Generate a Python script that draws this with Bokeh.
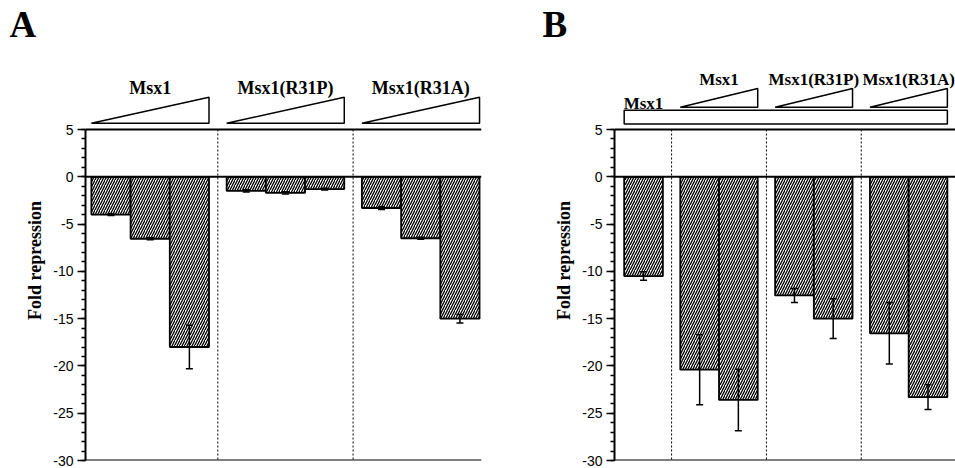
from bokeh.plotting import figure
from bokeh.layouts import row, column
from bokeh.models import (Range1d, ColumnDataSource, Whisker, TeeHead,
                          FixedTicker, Span)
from bokeh.embed import file_html
from bokeh.resources import INLINE
from bokeh.core.properties import value

# ---------------- data ----------------
A_groups = ["Msx1", "Msx1(R31P)", "Msx1(R31A)"]
A_values = [[-4.0, -6.55, -18.0], [-1.5, -1.7, -1.3], [-3.3, -6.5, -15.0]]
A_errors = [[0.1, 0.1, 2.3], [0.12, 0.12, 0.1], [0.15, 0.1, 0.45]]

B_groups = ["Msx1", "Msx1", "Msx1(R31P)", "Msx1(R31A)"]
B_values = [[-10.5], [-20.4, -23.6], [-12.55, -15.0], [-16.55, -23.3]]
B_errors = [[0.45], [3.7, 3.25], [0.75, 2.1], [3.25, 1.3]]

y_ticks = [5, 0, -5, -10, -15, -20, -25, -30]
y_tick_labels = ["5", "0", "-5", "-10", "-15", "-20", "-25", "-30"]
y_minor_ticks = list(range(-30, 6))
y_label = "Fold repression"
panel_letters = ["A", "B"]

# ---------------- style / layout ----------------
SERIF = "Liberation Serif"
SANS = "Liberation Sans"
Y_TOP, Y_BOT = 5, -30
PX_TOP, PX_BOT = 129, 460          # pixel rows of y=5 and y=-30
STRIP_H = 60
SCALE = (PX_BOT - PX_TOP) / (Y_TOP - Y_BOT)
Y_END = Y_TOP + (PX_TOP - STRIP_H) / SCALE
W_A, W_B = 490, 465
H_MAIN = 468 - STRIP_H
BOTTOM_BORDER = 468 - PX_BOT


def layout_bars(values, pad_left, gap, pad_right):
    x = pad_left
    centers, bounds, seps = [], [], []
    for gi, vals in enumerate(values):
        if gi > 0:
            seps.append(x + gap / 2)
            x += gap
        left = x
        cs = []
        for _ in vals:
            cs.append(x + 0.5)
            x += 1
        centers.append(cs)
        bounds.append((left, x))
    return centers, bounds, seps, x + pad_right


def make_panel(values, errors, width, border_left, border_right,
               pad_left, gap, pad_right):
    centers, bounds, seps, x_end = layout_bars(values, pad_left, gap, pad_right)
    p = figure(width=width, height=H_MAIN, x_range=Range1d(0, x_end),
               y_range=Range1d(Y_BOT, Y_END), output_backend="svg",
               toolbar_location=None, x_axis_location=None,
               min_border_left=border_left, min_border_right=border_right,
               min_border_top=0, min_border_bottom=BOTTOM_BORDER,
               outline_line_color=None, background_fill_color="white",
               border_fill_color="white")
    p.xgrid.visible = False
    p.ygrid.visible = False

    ax = p.yaxis[0]
    ax.ticker = FixedTicker(ticks=y_ticks, minor_ticks=y_minor_ticks)
    ax.major_label_overrides = {t: l for t, l in zip(y_ticks, y_tick_labels)}
    ax.bounds = (Y_BOT, Y_TOP)
    ax.axis_line_width = 2
    ax.axis_line_color = "black"
    ax.major_tick_out = 8
    ax.major_tick_in = 0
    ax.minor_tick_out = 4
    ax.minor_tick_in = 0
    ax.major_tick_line_width = 1.5
    ax.minor_tick_line_width = 1.5
    ax.major_tick_line_color = "black"
    ax.minor_tick_line_color = "black"
    ax.major_label_text_font = SANS
    ax.major_label_text_font_size = "14px"
    ax.major_label_text_color = "black"
    ax.major_label_standoff = 4
    ax.axis_label = y_label
    ax.axis_label_text_font = SERIF
    ax.axis_label_text_font_style = "bold"
    ax.axis_label_text_font_size = "18px"
    ax.axis_label_text_color = "black"
    ax.axis_label_standoff = 5

    for loc in (Y_TOP, 0, Y_BOT):
        p.add_layout(Span(location=loc, dimension="width", line_color="black",
                          line_width=2))

    p.segment(x0=seps, y0=[Y_TOP] * len(seps), x1=seps, y1=[Y_BOT] * len(seps),
              line_color="black", line_width=1, line_dash="2 2")

    xs = [c for cs in centers for c in cs]
    vs = [v for vals in values for v in vals]
    es = [e for errs in errors for e in errs]
    src = ColumnDataSource(dict(x=xs, top=[0] * len(vs), bottom=vs,
                                lower=[v - e for v, e in zip(vs, es)],
                                upper=[v + e for v, e in zip(vs, es)]))
    p.vbar(x="x", top="top", bottom="bottom", width=1, source=src,
           fill_color="white", hatch_pattern="/", hatch_color="black",
           hatch_scale=5, hatch_weight=1.3, line_color="black", line_width=1.8)
    w = Whisker(base="x", lower="lower", upper="upper", source=src,
                line_color="black", line_width=1.5, level="overlay",
                upper_head=TeeHead(size=7, line_width=1.5, line_color="black"),
                lower_head=TeeHead(size=7, line_width=1.5, line_color="black"))
    p.add_layout(w)
    return p, centers, bounds


# ---------------- letters strip ----------------
strip = figure(width=W_A + W_B, height=STRIP_H, x_range=Range1d(0, W_A + W_B),
               y_range=Range1d(0, STRIP_H), output_backend="svg",
               toolbar_location=None, x_axis_location=None,
               y_axis_location=None, min_border=0, outline_line_color=None,
               background_fill_color="white", border_fill_color="white")
strip.xgrid.visible = False
strip.ygrid.visible = False
strip.text(x=[9, 542], y=[STRIP_H - 24, STRIP_H - 24], text=panel_letters,
           text_font=value(SERIF), text_font_style="bold",
           text_font_size="37px", text_baseline="middle", text_align="left",
           text_color="black")

TXT = dict(text_font=value(SERIF), text_font_style="bold",
           text_align="center", text_baseline="middle", text_color="black")

# ---------------- panel A ----------------
pA, cA, bA = make_panel(A_values, A_errors, W_A, 85, 9, 0.15, 0.45, 0.05)
tri_base, tri_top = 5.67, 8.4
pA.patches(xs=[[l, r, r] for l, r in bA],
           ys=[[tri_base, tri_base, tri_top] for _ in bA],
           fill_color="white", line_color="black", line_width=1.5)
pA.text(x=[(l + r) / 2 for l, r in bA], y=[9.38] * len(bA), text=A_groups,
        text_font_size="18px", **TXT)

# ---------------- panel B ----------------
pB, cB, bB = make_panel(B_values, B_errors, W_B, 124, 0, 0.25, 0.45, 0.21)
pB.quad(left=[bB[0][0]], right=[bB[-1][1]], bottom=[5.57], top=[7.04],
        fill_color="white", line_color="black", line_width=1.5)
tb, tt = 7.35, 9.34
pB.patches(xs=[[l, r, r] for l, r in bB[1:]],
           ys=[[tb, tb, tt] for _ in bB[1:]],
           fill_color="white", line_color="black", line_width=1.5)
pB.text(x=[(l + r) / 2 for l, r in bB[1:]], y=[10.32] * (len(bB) - 1),
        text=B_groups[1:], text_font_size="17px", **TXT)
pB.text(x=[(bB[0][0] + bB[0][1]) / 2], y=[7.75], text=B_groups[:1],
        text_font_size="17px", **TXT)

layout = column(strip, row(pA, pB))
open("out.html", "w").write(file_html(layout, INLINE))
